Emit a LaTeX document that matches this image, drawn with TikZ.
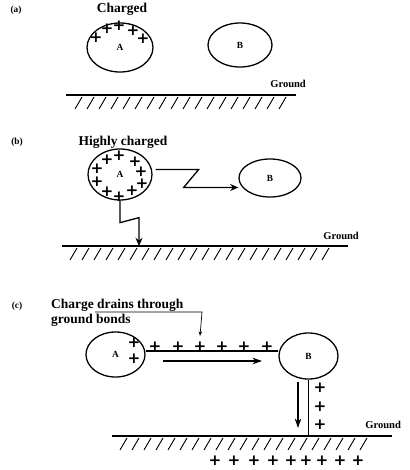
\documentclass[tikz,border=0pt]{standalone}
\usepackage{fontspec}
\setmainfont{Liberation Serif}
\newfontfamily\plusfont{DejaVu Sans}
\usetikzlibrary{positioning, arrows.meta, shapes.geometric, calc}

\begin{document}
\begin{tikzpicture}[
        x=0.03cm, y=-0.03cm,
        body/.style={draw, ellipse, line width=1.1pt, inner sep=0pt, font=\fontsize{8}{8}\selectfont\bfseries},
        tag/.style={font=\fontsize{8}{8}\selectfont\bfseries},
        caption/.style={font=\fontsize{11.5}{12.5}\selectfont\bfseries, align=left},
        gnd/.style={font=\fontsize{9}{9}\selectfont\bfseries, anchor=east},
        charge/.style={font=\plusfont\fontsize{13}{13}\selectfont\bfseries, inner sep=0pt},
        ground/.style={line width=1.1pt},
        hatch/.style={line width=0.8pt},
        arrow/.style={-{Stealth[length=7pt,width=6pt]}, line width=1.1pt},
        flow/.style={-{Stealth[length=8pt,width=5.5pt]}, line width=1.6pt},
        pointer/.style={-{Stealth[length=4pt,width=3pt]}, line width=0.6pt}
    ]
    \useasboundingbox (0,0) rectangle (409,470);

    % (a) charged sphere
    \node[tag] (TagA) at (16,10) {(a)};
    \node[body, minimum width=1.98cm, minimum height=1.47cm] (BodyA1) at (120,47.5) {A};
    \node[body, minimum width=1.92cm, minimum height=1.32cm] (BodyB1) at (240,45) {B};
    \node[caption] (StateA) at (122,9) {Charged};
    \foreach \px/\py [count=\i] in {96/38,107/29,119/26,133/31,143/39}
        \node[charge] (qa\i) at (\px,\py) {+};
    \coordinate (GroundL1) at (66,95);
    \coordinate (GroundR1) at (296,95);
    \draw[ground] (GroundL1) -- (GroundR1);
    \foreach \x in {82,94,...,290}
        \draw[hatch] (\x,97) -- ++(-7,12);
    \node[gnd] (GndA) at (310,84) {Ground};

    % (b) highly charged sphere, sparks
    \node[tag] (TagB) at (17,142) {(b)};
    \node[body, minimum width=1.92cm, minimum height=1.53cm] (BodyA2) at (120,174.5) {A};
    \node[body, minimum width=1.86cm, minimum height=1.14cm] (BodyB2) at (270,178) {B};
    \node[caption] (StateB) at (123,142) {Highly charged};
    \foreach \px/\py [count=\i] in {107/160,119/156,135/162,97/169,141/172,97/182,142/184,107/192,119/197,132/191}
        \node[charge] (qb\i) at (\px,\py) {+};
    \coordinate (GroundL2) at (62,246);
    \coordinate (GroundR2) at (348,246);
    \draw[ground] (GroundL2) -- (GroundR2);
    \foreach \x in {77,89,...,333}
        \draw[hatch] (\x,248) -- ++(-7,12);
    \node[gnd] (GndB) at (363,236) {Ground};
    \draw[arrow] (BodyA2.east) ++(3,-5) -- ++(43,0) -- ++(-15,18) coordinate (KinkB)
        -- (KinkB -| BodyB2.west);
    \draw[arrow] (BodyA2.south) -- ++(0,22) -- ++(19,-5) coordinate (KinkG)
        -- (KinkG |- GroundL2);

    % (c) bonded to ground
    \node[tag] (TagC) at (17,306) {(c)};
    \node[caption, anchor=west] (Drain) at (47,313) {Charge drains through\\ground bonds};
    \node[body, minimum width=1.77cm, minimum height=1.35cm] (BodyA3) at (115.5,354.5) {A};
    \node[body, minimum width=1.77cm, minimum height=1.38cm] (BodyB3) at (308.5,356) {B};
    \foreach \px/\py [count=\i] in {134/343,134/359}
        \node[charge] (qc\i) at (\px,\py) {+};
    \coordinate (GroundL3) at (112,436);
    \coordinate (GroundR3) at (392,436);
    \draw[ground] (GroundL3) -- (GroundR3);
    \foreach \x in {127,139,...,372}
        \draw[hatch] (\x,438) -- ++(-7,12);
    \node[gnd] (GndC) at (405,425) {Ground};
    % bonds
    \coordinate (BondL) at (BodyA3.east |- 0,351);
    \draw[ground] (BondL) -- (BondL -| BodyB3.west);
    \draw[ground] (BodyB3.south) -- (BodyB3.south |- GroundL3);
    \foreach \px [count=\i] in {155,178,200,222,244,267}
        \node[charge] (qd\i) at (\px,347) {+};
    \foreach \py [count=\i] in {388,407,425}
        \node[charge] (qe\i) at (320,\py) {+};
    \foreach \px [count=\i] in {215,234,254,273,291,306,322,340,358}
        \node[charge] (qf\i) at (\px,461) {+};
    % flow of charge
    \coordinate (FlowA) at (163,361);
    \coordinate (FlowB) at (262,361);
    \draw[flow] (FlowA) -- (FlowB);
    \coordinate (FlowC) at (298,382);
    \coordinate (FlowD) at (298,428);
    \draw[flow] (FlowC) -- (FlowD);
    % callout
    \coordinate (PointA) at (95,312);
    \coordinate (PointB) at (202,312);
    \draw[pointer] (PointA) -- (PointB) -- (qd3.north |- 0,336);

\end{tikzpicture}
\end{document}
